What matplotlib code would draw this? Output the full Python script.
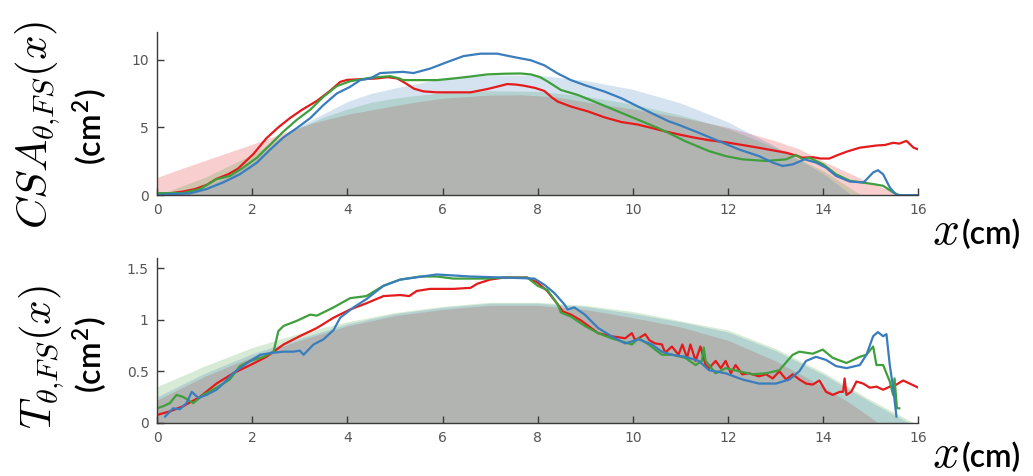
import matplotlib
matplotlib.use("Agg")
import matplotlib.pyplot as plt

plt.rcParams["mathtext.fontset"] = "cm"

# ---- colours for the three subjects ----
RED = "#e41a1c"
GREEN = "#3f9f3c"
BLUE = "#3a7dbd"

# ---- CSA panel: measured profiles ----
csa_red_x = [0, 0.3, 0.55, 0.8, 1.04, 1.25, 1.5, 1.7, 2.03, 2.3, 2.55, 2.8, 3.05, 3.36, 3.64, 3.85, 4.0,
             4.3, 4.6, 4.85, 5.05, 5.2, 5.4, 5.6, 5.88, 6.2, 6.59, 6.94, 7.15, 7.36, 7.55, 7.71, 7.95,
             8.14, 8.3, 8.42, 8.7, 9.06, 9.41, 9.76, 10.11, 10.4, 10.68, 11.0, 11.25, 11.6, 11.95,
             12.3, 12.65, 12.95, 13.22, 13.4, 13.57, 13.78, 13.95, 14.13, 14.3, 14.49, 14.77, 15.12,
             15.3, 15.47, 15.6, 15.75, 15.9, 16.0]
csa_red_y = [0.1, 0.15, 0.27, 0.45, 0.75, 1.2, 1.55, 1.95, 3.05, 4.2, 5.0, 5.7, 6.3, 6.95, 7.7, 8.35, 8.5,
             8.55, 8.6, 8.7, 8.6, 8.3, 7.85, 7.65, 7.58, 7.58, 7.58, 7.82, 8.0, 8.19, 8.15, 8.07, 7.9,
             7.68, 7.2, 6.9, 6.53, 6.17, 5.73, 5.39, 5.2, 4.95, 4.7, 4.45, 4.27, 4.05, 3.9,
             3.7, 3.49, 3.3, 3.13, 2.95, 2.76, 2.8, 2.7, 2.7, 2.95, 3.2, 3.5, 3.66,
             3.7, 3.86, 3.8, 4.0, 3.5, 3.37]

csa_green_x = [0, 0.3, 0.55, 0.9, 1.25, 1.53, 1.81, 2.1, 2.38, 2.66, 2.94, 3.22, 3.5, 3.78, 4.06, 4.48,
               4.9, 5.1, 5.17, 5.5, 5.88, 6.23, 6.6, 6.94, 7.3, 7.64, 7.86, 8.05, 8.2, 8.49, 8.85, 9.27,
               9.69, 10.11, 10.53, 10.8, 11.1, 11.6, 11.95, 12.3, 12.8, 13.22, 13.43, 13.57, 13.71,
               14.0, 14.27, 14.56, 15.05, 15.26, 15.47, 15.58]
csa_green_y = [0.15, 0.15, 0.16, 0.45, 1.17, 1.42, 2.03, 2.76, 3.73, 4.7, 5.56, 6.3, 7.26, 8.04, 8.4, 8.65,
               8.77, 8.6, 8.48, 8.48, 8.48, 8.6, 8.75, 8.9, 8.95, 8.97, 8.9, 8.7, 8.4, 7.75, 7.38, 6.78,
               6.17, 5.56, 4.95, 4.5, 3.98, 3.25, 2.88, 2.64, 2.52, 2.64, 2.96, 2.64, 2.76,
               2.27, 1.54, 1.06, 0.82, 0.69, 0.2, 0.03]

csa_blue_x = [0, 0.27, 0.69, 1.04, 1.39, 1.74, 2.1, 2.38, 2.66, 2.94, 3.22, 3.5, 3.78, 4.06, 4.27, 4.48,
              4.69, 4.9, 5.17, 5.39, 5.74, 6.09, 6.44, 6.8, 7.15, 7.5, 7.86, 8.14, 8.42, 8.7, 8.99,
              9.41, 9.76, 10.11, 10.47, 10.75, 10.96, 11.39, 11.81, 12.23, 12.65, 12.94, 13.15, 13.36,
              13.61, 13.85, 14.06, 14.27, 14.56, 14.85, 15.05, 15.15, 15.26, 15.4, 15.54, 16.0]
csa_blue_y = [0.0, 0.08, 0.13, 0.45, 0.94, 1.54, 2.4, 3.37, 4.27, 4.95, 5.68, 6.65, 7.5, 7.99, 8.48, 8.6,
              9.0, 9.04, 9.09, 9.0, 9.33, 9.8, 10.25, 10.43, 10.43, 10.18, 9.94, 9.57, 8.97, 8.48, 8.11,
              7.63, 7.14, 6.53, 5.92, 5.45, 5.19, 4.59, 3.98, 3.37, 2.88, 2.4, 2.15, 2.27,
              2.64, 2.4, 2.03, 1.42, 1.0, 0.94, 1.67, 1.84, 1.54, 0.57, 0.0, 0.0]

# ---- CSA panel: model bands ----
csa_red_band_x = [0, 0.55, 1.25, 1.96, 2.66, 3.36, 4.06, 4.76, 5.32, 6, 7, 7.64, 8.35, 9.06, 10, 11, 12,
                  13, 13.5, 14, 14.5, 15, 15.65]
csa_red_band_y = [1.3, 2.0, 2.85, 3.7, 4.6, 5.4, 6.0, 6.45, 6.8, 7.15, 7.38, 7.4, 7.25, 6.85, 6.35, 5.75,
                  5.0, 4.0, 3.4, 2.5, 1.7, 0.9, 0.0]
csa_green_band_x = [0, 1, 2, 2.5, 3, 3.5, 4, 4.5, 5, 5.32, 6, 7, 8, 9, 10, 11, 12, 13, 14, 14.8]
csa_green_band_y = [0.0, 1.3, 3.0, 4.1, 5.0, 5.75, 6.35, 6.85, 7.15, 7.3, 7.55, 7.7, 7.65, 7.3, 6.7, 5.9,
                    4.9, 3.5, 1.8, 0.0]
csa_blue_band_x = [0.3, 1, 1.5, 2, 2.5, 3, 3.5, 4, 4.5, 5, 5.5, 6, 7, 8, 9, 10, 10.54, 11, 12, 12.23, 13,
                   14, 14.6]
csa_blue_band_y = [0.0, 0.6, 1.4, 2.4, 3.9, 5.1, 6.0, 6.9, 7.5, 7.9, 8.25, 8.6, 8.85, 8.85, 8.45, 7.8,
                   7.26, 6.8, 5.4, 4.97, 3.6, 1.6, 0.0]

# ---- thickness panel: measured profiles ----
t_red_x = [0, 0.27, 0.55, 0.9, 1.25, 1.6, 1.96, 2.3, 2.66, 3.0, 3.36, 3.71, 4.06, 4.4, 4.76, 5.11, 5.3,
           5.46, 5.74, 6.23, 6.59, 6.73, 7.0, 7.29, 7.78, 8.0, 8.2, 8.42, 8.53, 8.7, 8.92, 9.27, 9.55,
           9.84, 9.98, 10.05, 10.12, 10.26, 10.35, 10.47, 10.61, 10.68, 10.82, 10.96, 11.04, 11.14,
           11.21, 11.32, 11.42, 11.53, 11.6, 11.74, 11.85, 11.95, 12.06, 12.16, 12.3, 12.44, 12.65,
           12.8, 12.94, 13.08, 13.22, 13.36, 13.5, 13.64, 13.78, 13.92, 14.06, 14.2, 14.35, 14.42,
           14.45, 14.49, 14.59, 14.7, 14.84, 14.98, 15.12, 15.26, 15.4, 15.54, 15.68, 15.82, 16.0]
t_red_y = [0.075, 0.11, 0.16, 0.25, 0.38, 0.48, 0.56, 0.64, 0.76, 0.84, 0.92, 1.02, 1.1, 1.16, 1.23, 1.24,
           1.23, 1.28, 1.3, 1.3, 1.31, 1.35, 1.39, 1.41, 1.41, 1.36, 1.28, 1.15, 1.08, 1.05, 0.99, 0.87,
           0.84, 0.82, 0.87, 0.8, 0.82, 0.86, 0.8, 0.77, 0.76, 0.68, 0.74, 0.66, 0.76, 0.63,
           0.76, 0.6, 0.74, 0.56, 0.53, 0.6, 0.53, 0.6, 0.48, 0.56, 0.47, 0.48, 0.45,
           0.47, 0.43, 0.5, 0.42, 0.47, 0.42, 0.38, 0.37, 0.41, 0.3, 0.27, 0.3, 0.3,
           0.43, 0.27, 0.3, 0.4, 0.38, 0.34, 0.35, 0.32, 0.35, 0.37, 0.41, 0.38, 0.34]

t_green_x = [0, 0.13, 0.27, 0.41, 0.55, 0.76, 0.97, 1.25, 1.53, 1.74, 1.96, 2.24, 2.45, 2.5, 2.55, 2.66,
             2.94, 3.22, 3.36, 3.71, 4.06, 4.4, 4.76, 5.11, 5.53, 5.88, 6.23, 6.94, 7.29, 7.78, 8.0,
             8.2, 8.42, 8.49, 8.7, 8.99, 9.27, 9.55, 9.98, 10.12, 10.33, 10.61, 10.82, 11.1, 11.32,
             11.45, 11.49, 11.53, 11.6, 11.74, 11.95, 12.23, 12.51, 12.8, 13.08, 13.36, 13.5, 13.78,
             13.99, 14.2, 14.49, 14.77, 14.91, 15.05, 15.12, 15.26, 15.4, 15.47, 15.5, 15.55, 15.6]
t_green_y = [0.14, 0.16, 0.19, 0.27, 0.25, 0.19, 0.27, 0.34, 0.42, 0.55, 0.6, 0.64, 0.69, 0.79, 0.89, 0.94,
             0.99, 1.05, 1.04, 1.12, 1.21, 1.23, 1.33, 1.39, 1.42, 1.42, 1.4, 1.4, 1.41, 1.41, 1.33,
             1.29, 1.15, 1.07, 1.03, 0.94, 0.87, 0.82, 0.76, 0.82, 0.76, 0.66, 0.66, 0.63, 0.56,
             0.6, 0.73, 0.6, 0.56, 0.48, 0.53, 0.5, 0.47, 0.48, 0.51, 0.66, 0.69, 0.67,
             0.71, 0.63, 0.58, 0.64, 0.66, 0.74, 0.56, 0.56, 0.4, 0.27, 0.43, 0.14, 0.14]

t_blue_x = [0.17, 0.34, 0.48, 0.62, 0.73, 0.87, 1.04, 1.25, 1.39, 1.6, 1.89, 2.17, 2.45, 2.66, 2.87, 3.0,
            3.08, 3.29, 3.5, 3.71, 3.85, 4.13, 4.4, 4.76, 5.11, 5.88, 6.59, 7.29, 7.93, 8.14, 8.35,
            8.56, 8.63, 8.77, 8.99, 9.27, 9.55, 9.84, 10.12, 10.4, 10.61, 10.82, 11.1, 11.39, 11.6,
            11.95, 12.3, 12.65, 13.01, 13.29, 13.5, 13.64, 13.85, 14.06, 14.27, 14.49, 14.77, 14.91,
            15.05, 15.15, 15.26, 15.33, 15.4, 15.47, 15.54]
t_blue_y = [0.06, 0.14, 0.13, 0.19, 0.3, 0.24, 0.27, 0.32, 0.38, 0.48, 0.58, 0.66, 0.68, 0.69, 0.69, 0.7,
            0.66, 0.76, 0.81, 0.9, 1.02, 1.12, 1.2, 1.33, 1.39, 1.44, 1.42, 1.41, 1.4, 1.34, 1.26,
            1.15, 1.1, 1.12, 1.05, 0.92, 0.84, 0.77, 0.81, 0.76, 0.69, 0.66, 0.64, 0.6, 0.51,
            0.48, 0.42, 0.38, 0.38, 0.42, 0.5, 0.6, 0.64, 0.61, 0.55, 0.53, 0.56, 0.66,
            0.84, 0.88, 0.84, 0.86, 0.56, 0.34, 0.06]

# ---- thickness panel: model bands ----
t_red_band_x = [0, 1, 2, 3, 4, 5, 6, 7, 8, 9, 10, 11, 12, 13, 14, 14.6, 15.15]
t_red_band_y = [0.22, 0.45, 0.64, 0.8, 0.94, 1.04, 1.1, 1.14, 1.14, 1.1, 1.02, 0.93, 0.8, 0.6, 0.35,
                0.18, 0.0]
t_green_band_x = [0, 1, 2, 3, 4, 5, 6, 7, 8, 9, 10, 11, 12, 13, 14, 15, 15.9]
t_green_band_y = [0.35, 0.55, 0.73, 0.87, 0.98, 1.07, 1.13, 1.17, 1.17, 1.14, 1.08, 0.99, 0.9, 0.72,
                  0.49, 0.22, 0.0]
t_blue_band_x = [0, 1, 2, 3, 4, 5, 6, 7, 8, 9, 10, 11, 12, 13, 14, 15, 15.8]
t_blue_band_y = [0.25, 0.48, 0.67, 0.82, 0.96, 1.06, 1.12, 1.16, 1.16, 1.13, 1.06, 0.98, 0.88, 0.7,
                 0.47, 0.2, 0.0]

xticks = [0, 2, 4, 6, 8, 10, 12, 14, 16]
csa_yticks = [0, 5, 10]
t_yticks = [0, 0.5, 1, 1.5]
t_yticklabels = ["0", "0.5", "1", "1.5"]

BAND_ALPHA = 0.21
TICK_COLOR = "#555555"
SPINE_COLOR = "#3a3a3a"


def style_axes(ax, ymax, yticks, yticklabels=None):
    ax.set_xlim(0, 16)
    ax.set_ylim(0, ymax)
    ax.set_xticks(xticks)
    ax.set_yticks(yticks)
    if yticklabels is not None:
        ax.set_yticklabels(yticklabels)
    for side in ("top", "right"):
        ax.spines[side].set_visible(False)
    for side in ("left", "bottom"):
        ax.spines[side].set_color(SPINE_COLOR)
        ax.spines[side].set_linewidth(1.0)
    ax.tick_params(direction="in", length=5, width=1, colors=SPINE_COLOR,
                   labelcolor=TICK_COLOR, labelsize=10, pad=6)
    ax.set_facecolor("none")


def draw_panel(ax, bands, lines):
    for bx, by, col in bands:
        ax.fill_between(bx, 0, by, color=col, alpha=BAND_ALPHA, linewidth=0)
    for lx, ly, col in lines:
        ax.plot(lx, ly, color=col, lw=1.6, solid_joinstyle="round")


fig = plt.figure(figsize=(10.33, 4.76), dpi=100)
ax1 = fig.add_axes([0.152, 0.590, 0.737, 0.342])
ax2 = fig.add_axes([0.152, 0.112, 0.737, 0.346])

draw_panel(ax1,
           [(csa_red_band_x, csa_red_band_y, RED),
            (csa_green_band_x, csa_green_band_y, GREEN),
            (csa_blue_band_x, csa_blue_band_y, BLUE)],
           [(csa_red_x, csa_red_y, RED),
            (csa_green_x, csa_green_y, GREEN),
            (csa_blue_x, csa_blue_y, BLUE)])
style_axes(ax1, 12, csa_yticks)

draw_panel(ax2,
           [(t_red_band_x, t_red_band_y, RED),
            (t_green_band_x, t_green_band_y, GREEN),
            (t_blue_band_x, t_blue_band_y, BLUE)],
           [(t_red_x, t_red_y, RED),
            (t_green_x, t_green_y, GREEN),
            (t_blue_x, t_blue_y, BLUE)])
style_axes(ax2, 1.6, t_yticks, t_yticklabels)

# y-axis labels
UNIT = "(cm$^\\mathregular{2}$)"
fig.text(0.037, 0.737, r"$CSA_{\theta{,}FS}(x)$", rotation=90, fontsize=31,
         ha="center", va="center")
fig.text(0.086, 0.733, UNIT, rotation=90, fontsize=23,
         ha="center", va="center", family="Lato", weight="semibold")
fig.text(0.040, 0.250, r"$T_{\theta{,}FS}(x)$", rotation=90, fontsize=31,
         ha="center", va="center")
fig.text(0.086, 0.254, UNIT, rotation=90, fontsize=23,
         ha="center", va="center", family="Lato", weight="semibold")

# x-axis labels, baselines placed just under each axis
for ybase in (1 - 244 / 476, 1 - 467 / 476):
    fig.text(0.902, ybase, r"$x$", fontsize=34, ha="left", va="baseline")
    fig.text(0.931, ybase, "(cm)", fontsize=23, ha="left", va="baseline",
             family="Lato", weight="semibold")

fig.savefig("out.png", dpi=100)
